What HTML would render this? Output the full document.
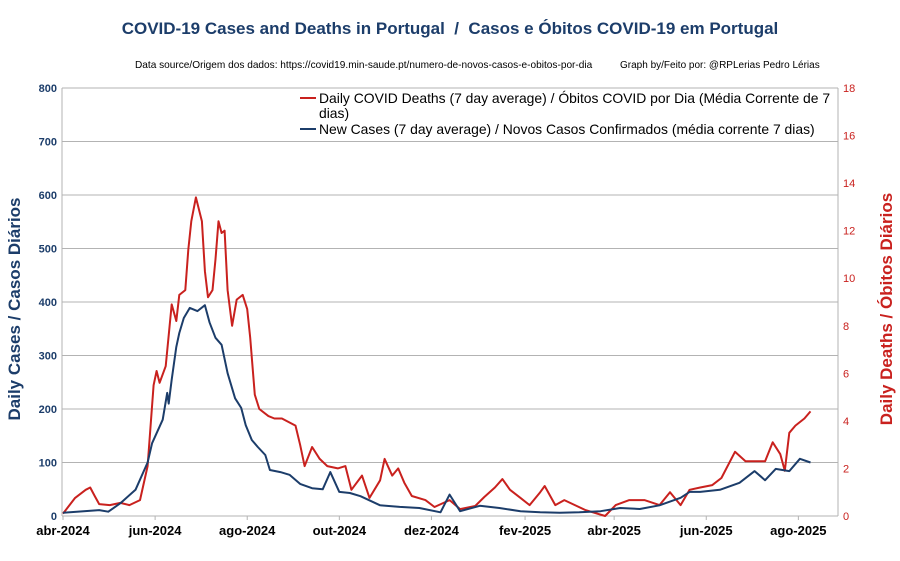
<!DOCTYPE html>
<html><head><meta charset="utf-8"><style>
body{margin:0;background:#fff;font-family:"Liberation Sans",sans-serif}
</style></head><body>
<svg id="c" width="900" height="556" xmlns="http://www.w3.org/2000/svg" font-family="Liberation Sans, sans-serif">
<text x="450" y="34" text-anchor="middle" font-size="17" font-weight="bold" fill="#1c3d6a">COVID-19 Cases and Deaths in Portugal &#160;/&#160; Casos e Óbitos COVID-19 em Portugal</text>
<text x="135" y="68" font-size="10.1" fill="#000">Data source/Origem dos dados: https://covid19.min-saude.pt/numero-de-novos-casos-e-obitos-por-dia</text>
<text x="620" y="68" font-size="10" fill="#000">Graph by/Feito por: @RPLerias Pedro Lérias</text>
<text transform="translate(20,309) rotate(-90)" text-anchor="middle" font-size="17" font-weight="bold" fill="#1c3d6a">Daily Cases / Casos Diários</text>
<text transform="translate(892,309) rotate(-90)" text-anchor="middle" font-size="17" font-weight="bold" fill="#c9211e">Daily Deaths / Óbitos Diários</text>
<g id="grid"></g><g id="axes"></g><g id="series"></g>
<g>
<line x1="300" y1="98" x2="316" y2="98" stroke="#c9211e" stroke-width="2"/>
<text x="319" y="103" font-size="13.9">Daily COVID Deaths (7 day average) / Óbitos COVID por Dia (Média Corrente de 7</text>
<text x="319" y="118" font-size="13.9">dias)</text>
<line x1="300" y1="129" x2="316" y2="129" stroke="#1c3d6a" stroke-width="2"/>
<text x="319" y="134" font-size="13.9">New Cases (7 day average) / Novos Casos Confirmados (média corrente 7 dias)</text>
</g>
</svg>
<script>
const monthLabels=["abr-2024","jun-2024","ago-2024","out-2024","dez-2024","fev-2025","abr-2025","jun-2025","ago-2025"];
const monthDays=[0,61,122,183,244,306,365,426,487];
const leftTicks=[0,100,200,300,400,500,600,700,800];
const rightTicks=[0,2,4,6,8,10,12,14,16,18];
const caseDays=[0,24,30,38,48,56,59,66,69,70,72,75,77,80,84,89,94,97,101,105,109,114,118,121,125,129,134,137,144,150,157,165,172,177,183,190,197,210,223,236,250,256,263,276,289,303,316,329,342,356,369,382,395,409,415,422,435,448,458,465,472,481,488,495];
const caseVals=[6,11,8,24,49,100,136,180,230,210,255,316,342,370,389,383,394,362,333,320,267,220,202,170,142,129,114,86,82,77,60,52,50,82,45,43,37,20,17,15,7,40,9,19,15,9,7,6,7,9,15,13,20,34,45,45,49,62,84,67,88,84,107,100];
const deathDays=[0,8,15,18,21,24,31,38,44,51,56,60,62,64,68,70,72,75,77,81,83,85,88,92,94,96,99,101,103,105,107,109,112,115,119,122,124,127,130,136,140,145,154,157,160,165,170,175,182,187,191,198,203,210,213,218,222,226,231,240,246,256,263,273,279,286,291,296,303,309,316,319,326,332,339,346,359,366,375,385,395,402,409,415,422,430,436,445,452,458,465,470,475,478,481,485,491,495];
const deathVals=[0.1,0.76,1.1,1.2,0.84,0.5,0.46,0.55,0.46,0.67,2.1,5.5,6.1,5.6,6.3,7.6,8.9,8.2,9.3,9.5,11.2,12.4,13.4,12.4,10.3,9.2,9.5,10.8,12.4,11.9,12,9.5,8.0,9.1,9.3,8.7,7.5,5.1,4.5,4.2,4.1,4.1,3.8,3.0,2.1,2.9,2.4,2.1,2.0,2.1,1.1,1.7,0.76,1.5,2.4,1.7,2.0,1.4,0.84,0.67,0.38,0.67,0.29,0.42,0.8,1.2,1.55,1.1,0.76,0.46,1.0,1.26,0.46,0.67,0.46,0.25,0,0.46,0.67,0.67,0.46,1.0,0.46,1.1,1.2,1.3,1.6,2.7,2.3,2.3,2.3,3.1,2.6,1.9,3.5,3.8,4.1,4.4];
const L=62,R=838,T=88,B=516;
const xs=d=>63+d*1.51;
const yl=v=>B-(v/800)*(B-T);
const yr=v=>B-(v/18)*(B-T);
const NS="http://www.w3.org/2000/svg";
function mk(tag,attrs,parent,txt){const e=document.createElementNS(NS,tag);for(const k in attrs)e.setAttribute(k,attrs[k]);if(txt!==undefined)e.textContent=txt;parent.appendChild(e);return e;}
const grid=document.getElementById('grid'),axes=document.getElementById('axes'),series=document.getElementById('series');
leftTicks.forEach(v=>{
  const g=mk('line',{x1:L,x2:R,y1:yl(v),y2:yl(v),stroke:'#b3b3b3','stroke-width':1},grid);
  
  
  const t=mk('text',{x:L-5,y:yl(v)+4,'text-anchor':'end','font-size':11,'font-weight':'bold',fill:'#1c3d6a'},axes,String(v));
  
  
});
rightTicks.forEach(v=>{
  const t=mk('text',{x:R+5,y:yr(v)+4,'font-size':11,fill:'#c9211e'},axes,String(v));
  
  
});
mk('line',{x1:L,x2:L,y1:T,y2:B,stroke:'#b3b3b3'},axes);
mk('line',{x1:R,x2:R,y1:T,y2:B,stroke:'#b3b3b3'},axes);
monthDays.forEach((d,i)=>{
  const x=xs(d);
  mk('line',{x1:x,x2:x,y1:B,y2:B+4,stroke:'#b3b3b3'},axes);
  const t=mk('text',{x:x,y:535,'text-anchor':'middle','font-size':13,'font-weight':'bold',fill:'#000'},axes,monthLabels[i]);
  
  
});
const dp=deathDays.map((d,i)=>xs(d).toFixed(1)+','+yr(deathVals[i]).toFixed(1)).join(' ');
const dl=mk('polyline',{points:dp,fill:'none',stroke:'#c9211e','stroke-width':2,'stroke-linejoin':'round'},series);


const cp=caseDays.map((d,i)=>xs(d).toFixed(1)+','+yl(caseVals[i]).toFixed(1)).join(' ');
const cl=mk('polyline',{points:cp,fill:'none',stroke:'#1c3d6a','stroke-width':2,'stroke-linejoin':'round'},series);


</script>
</body></html>
